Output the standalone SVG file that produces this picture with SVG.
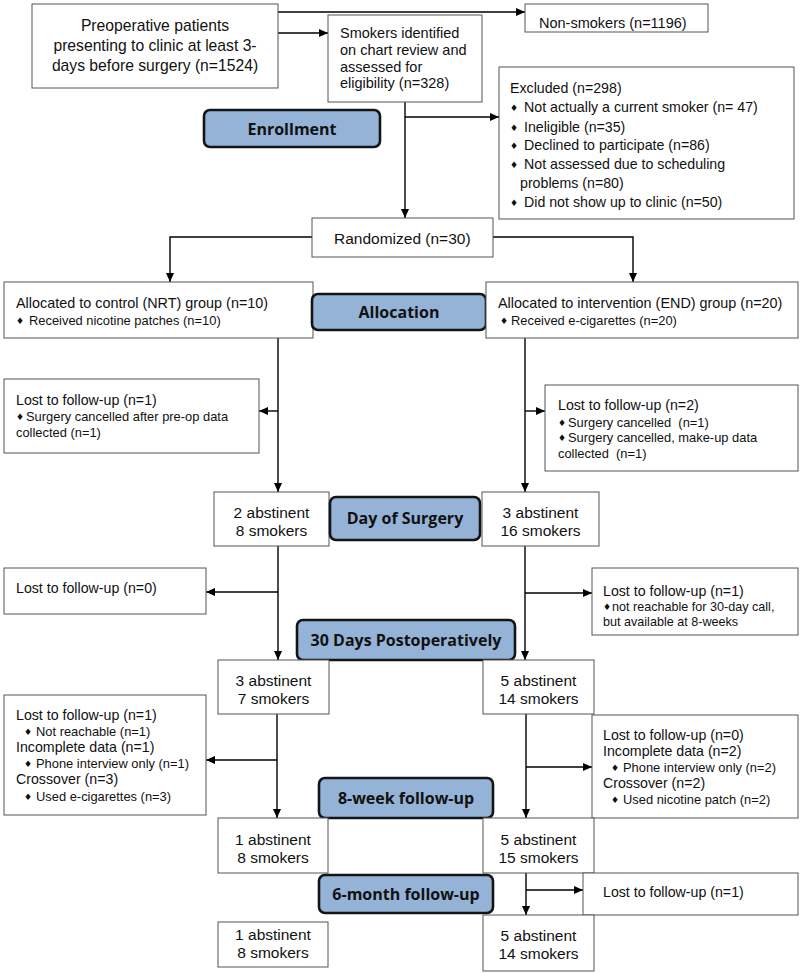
<svg xmlns="http://www.w3.org/2000/svg" width="800" height="973" viewBox="0 0 800 973">
<style>
.bg{fill:#fff}
.box{fill:#fff;stroke:#555;stroke-width:1}
.lbl{fill:#95b3d7;stroke:#141414;stroke-width:2.6}
.t{font-family:"Liberation Sans",Arial,sans-serif;font-size:15.5px;fill:#111}
.m{font-family:"Liberation Sans",Arial,sans-serif;font-size:14.2px;fill:#111}
.s{font-family:"Liberation Sans",Arial,sans-serif;font-size:12.9px;fill:#111}
.b{font-family:"DejaVu Sans","Liberation Sans",sans-serif;font-size:9px;fill:#111}
.c{text-anchor:middle}
.h{font-family:"Open Sans","Liberation Sans",sans-serif;font-weight:bold;font-size:16px;fill:#111;text-anchor:middle}
.ln{fill:none;stroke:#000;stroke-width:1.4}
.arr{fill:none;stroke:#000;stroke-width:1.4;marker-end:url(#ah)}
</style>
<defs>
<marker id="ah" markerUnits="userSpaceOnUse" markerWidth="9" markerHeight="8" refX="9" refY="4" orient="auto">
<path d="M0,0 L9,4 L0,8 z" fill="#000"/>
</marker>
</defs>
<rect class="bg" x="0" y="0" width="800" height="973"/>

<g id="connectors">
<path class="arr" d="M278,12 H525"/>
<path class="arr" d="M278,33 H328"/>
<path class="arr" d="M405,102 V218"/>
<path class="arr" d="M405,117 H499"/>
<path class="arr" d="M312,237 H170 V282"/>
<path class="arr" d="M493,237 H633 V282"/>
<path class="arr" d="M278,338 V492"/>
<path class="arr" d="M278,411 H259"/>
<path class="arr" d="M525,338 V492"/>
<path class="arr" d="M525,411 H545"/>
<path class="arr" d="M278,546 V660"/>
<path class="arr" d="M278,592 H206"/>
<path class="arr" d="M525,546 V660"/>
<path class="arr" d="M525,593 H592"/>
<path class="arr" d="M277,714 V818"/>
<path class="arr" d="M277,760 H206"/>
<path class="arr" d="M526,714 V818"/>
<path class="arr" d="M526,767 H592"/>
<path class="arr" d="M526,873 V915"/>
<path class="arr" d="M526,890 H583"/>
</g>

<g id="preoperative">
<rect class="box" x="32" y="4" width="246" height="84"/>
<text class="t c" x="155" y="30.5" style="font-size:15.7px">Preoperative patients</text>
<text class="t c" x="155" y="50.5" style="font-size:15.7px">presenting to clinic at least 3-</text>
<text class="t c" x="155" y="70.5" style="font-size:15.7px">days before surgery (n=1524)</text>
</g>

<g id="nonsmokers">
<rect class="box" x="525" y="4" width="183" height="28"/>
<text class="m" x="539" y="28" style="font-size:14.5px">Non-smokers (n=1196)</text>
</g>

<g id="smokers">
<rect class="box" x="328" y="15" width="154" height="87"/>
<text class="m" x="340" y="38" style="font-size:14.5px">Smokers identified</text>
<text class="m" x="340" y="55" style="font-size:14.5px">on chart review and</text>
<text class="m" x="340" y="72" style="font-size:14.5px">assessed for</text>
<text class="m" x="340" y="88" style="font-size:14.5px">eligibility (n=328)</text>
</g>

<g id="enrollment">
<rect class="lbl" x="204" y="110" width="176" height="37" rx="6"/>
<text class="h" x="292" y="134.5">Enrollment</text>
</g>

<g id="excluded">
<rect class="box" x="499" y="67" width="295" height="152"/>
<text class="m" x="510" y="93">Excluded (n=298)</text>
<text class="b" x="510" y="111">♦</text><text class="m" x="524" y="112">Not actually a current smoker (n= 47)</text>
<text class="b" x="510" y="131">♦</text><text class="m" x="524" y="132">Ineligible (n=35)</text>
<text class="b" x="510" y="149">♦</text><text class="m" x="524" y="150">Declined to participate (n=86)</text>
<text class="b" x="510" y="168">♦</text><text class="m" x="524" y="169">Not assessed due to scheduling</text>
<text class="m" x="520" y="188">problems (n=80)</text>
<text class="b" x="510" y="206">♦</text><text class="m" x="524" y="207">Did not show up to clinic (n=50)</text>
</g>

<g id="randomized">
<rect class="box" x="312" y="218" width="181" height="39"/>
<text class="t" x="334" y="244">Randomized (n=30)</text>
</g>

<g id="control">
<rect class="box" x="4" y="282" width="309" height="56"/>
<text class="t" x="16" y="307.5" style="font-size:14.4px">Allocated to control (NRT) group (n=10)</text>
<text class="b" x="16" y="324">♦</text><text class="s" x="29" y="324.5">Received nicotine patches (n=10)</text>
</g>

<g id="allocation">
<rect class="lbl" x="312" y="294" width="174" height="36" rx="6"/>
<text class="h" x="399" y="318">Allocation</text>
</g>

<g id="intervention">
<rect class="box" x="486" y="282" width="312" height="56"/>
<text class="t" x="498" y="307.5" style="font-size:14.4px">Allocated to intervention (END) group (n=20)</text>
<text class="b" x="500" y="324">♦</text><text class="s" x="511" y="324.5">Received e-cigarettes (n=20)</text>
</g>

<g id="lost-control-1">
<rect class="box" x="4" y="379" width="255" height="74"/>
<text class="m" x="16" y="405">Lost to follow-up (n=1)</text>
<text class="b" x="16" y="420">♦</text><text class="s" x="26" y="420.5">Surgery cancelled after pre-op data</text>
<text class="s" x="16" y="436.5">collected (n=1)</text>
</g>

<g id="lost-intervention-1">
<rect class="box" x="545" y="385" width="253" height="86"/>
<text class="m" x="558" y="410">Lost to follow-up (n=2)</text>
<text class="b" x="558" y="426">♦</text><text class="s" x="568" y="426.5" xml:space="preserve">Surgery cancelled  (n=1)</text>
<text class="b" x="558" y="441">♦</text><text class="s" x="568" y="441.5">Surgery cancelled, make-up data</text>
<text class="s" x="558" y="457.5" xml:space="preserve">collected  (n=1)</text>
</g>

<g id="surgery-control">
<rect class="box" x="214" y="492" width="115" height="54"/>
<text class="t c" x="271.5" y="517.5">2 abstinent</text>
<text class="t c" x="271.5" y="535.5">8 smokers</text>
</g>

<g id="day-of-surgery">
<rect class="lbl" x="330" y="497" width="150" height="43" rx="6"/>
<text class="h" x="405" y="523.5">Day of Surgery</text>
</g>

<g id="surgery-intervention">
<rect class="box" x="482" y="492" width="117" height="54"/>
<text class="t c" x="540.5" y="517.5">3 abstinent</text>
<text class="t c" x="540.5" y="535.5">16 smokers</text>
</g>

<g id="lost-control-2">
<rect class="box" x="4" y="568" width="202" height="46"/>
<text class="m" x="16" y="593">Lost to follow-up (n=0)</text>
</g>

<g id="lost-intervention-2">
<rect class="box" x="592" y="568" width="206" height="67"/>
<text class="m" x="603" y="596">Lost to follow-up (n=1)</text>
<text class="b" x="603" y="610">♦</text><text class="s" x="612" y="610.5" style="font-size:12.6px">not reachable for 30-day call,</text>
<text class="s" x="603" y="625.5" style="font-size:12.6px">but available at 8-weeks</text>
</g>

<g id="thirty-days">
<rect class="lbl" x="297" y="620" width="218" height="40" rx="6"/>
<text class="h" x="406" y="645.5">30 Days Postoperatively</text>
</g>

<g id="thirty-control">
<rect class="box" x="218" y="660" width="111" height="54"/>
<text class="t c" x="273.5" y="685.5">3 abstinent</text>
<text class="t c" x="273.5" y="703.5">7 smokers</text>
</g>

<g id="thirty-intervention">
<rect class="box" x="483" y="660" width="111" height="54"/>
<text class="t c" x="538.5" y="685.5">5 abstinent</text>
<text class="t c" x="538.5" y="703.5">14 smokers</text>
</g>

<g id="lost-control-3">
<rect class="box" x="4" y="695" width="202" height="120"/>
<text class="m" x="16" y="720">Lost to follow-up (n=1)</text>
<text class="b" x="24" y="735">♦</text><text class="s" x="36" y="735.5">Not reachable (n=1)</text>
<text class="m" x="16" y="752">Incomplete data (n=1)</text>
<text class="b" x="24" y="767">♦</text><text class="s" x="36" y="767.5">Phone interview only (n=1)</text>
<text class="m" x="16" y="784">Crossover (n=3)</text>
<text class="b" x="24" y="800">♦</text><text class="s" x="36" y="800.5">Used e-cigarettes (n=3)</text>
</g>

<g id="lost-intervention-3">
<rect class="box" x="592" y="715" width="206" height="103"/>
<text class="m" x="603" y="740">Lost to follow-up (n=0)</text>
<text class="m" x="603" y="756">Incomplete data (n=2)</text>
<text class="b" x="611" y="771">♦</text><text class="s" x="623" y="771.5">Phone interview only (n=2)</text>
<text class="m" x="603" y="788">Crossover (n=2)</text>
<text class="b" x="611" y="803">♦</text><text class="s" x="623" y="803.5">Used nicotine patch (n=2)</text>
</g>

<g id="eight-week">
<rect class="lbl" x="319" y="778" width="174" height="40" rx="6"/>
<text class="h" x="406" y="803.5">8-week follow-up</text>
</g>

<g id="eight-control">
<rect class="box" x="218" y="818" width="110" height="55"/>
<text class="t c" x="273" y="844.5">1 abstinent</text>
<text class="t c" x="273" y="862.5">8 smokers</text>
</g>

<g id="eight-intervention">
<rect class="box" x="483" y="818" width="111" height="55"/>
<text class="t c" x="538.5" y="844.5">5 abstinent</text>
<text class="t c" x="538.5" y="862.5">15 smokers</text>
</g>

<g id="six-month">
<rect class="lbl" x="319" y="875" width="174" height="38" rx="6"/>
<text class="h" x="406" y="899.5">6-month follow-up</text>
</g>

<g id="lost-intervention-4">
<rect class="box" x="583" y="873" width="215" height="42"/>
<text class="m" x="603" y="897">Lost to follow-up (n=1)</text>
</g>

<g id="six-control">
<rect class="box" x="218" y="922" width="110" height="45"/>
<text class="t c" x="273" y="939.5">1 abstinent</text>
<text class="t c" x="273" y="957.5">8 smokers</text>
</g>

<g id="six-intervention">
<rect class="box" x="483" y="915" width="111" height="56"/>
<text class="t c" x="538.5" y="940.5">5 abstinent</text>
<text class="t c" x="538.5" y="958.5">14 smokers</text>
</g>
</svg>
